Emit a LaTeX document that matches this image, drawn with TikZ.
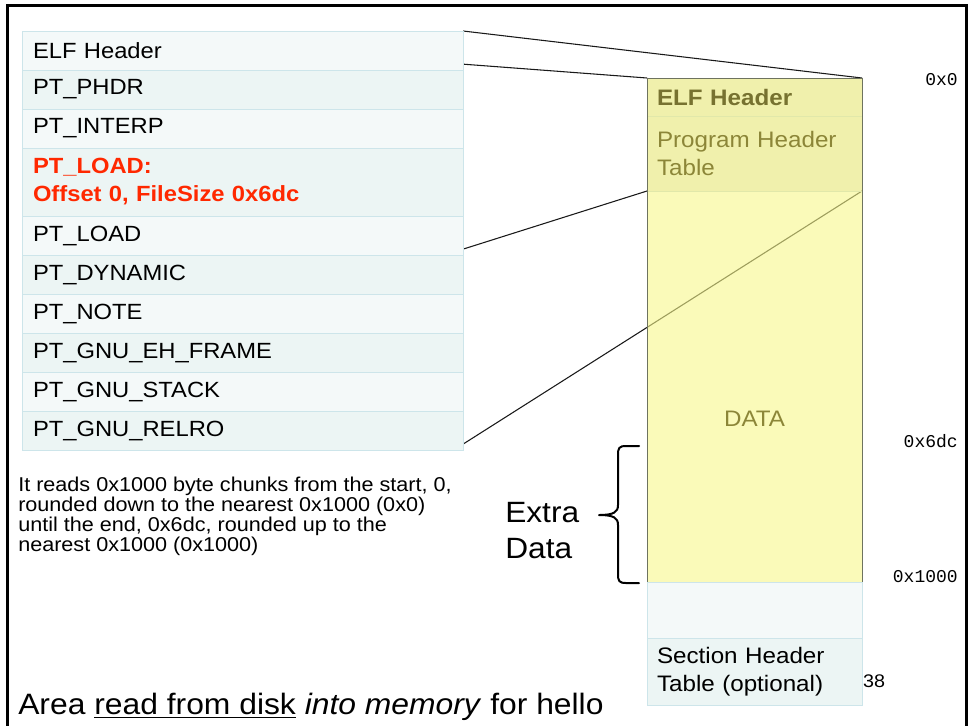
\documentclass[tikz,border=0pt]{standalone}
\usepackage{fontspec}
\setmainfont{Liberation Sans}[FakeStretch=1.08]
\newfontfamily\hexfont{Liberation Mono}
\usetikzlibrary{positioning,backgrounds,calc}
\newcommand\thickul[1]{\setbox0\hbox{#1}\rlap{\rule[-3.2pt]{\wd0}{1.2pt}}\box0\relax}

\definecolor{rowlight}{RGB}{244,249,249}
\definecolor{rowdark}{RGB}{236,245,244}
\definecolor{rowline}{RGB}{205,229,234}
\definecolor{loadred}{RGB}{255,40,0}
\definecolor{olivetext}{RGB}{140,134,56}
\definecolor{oliveborder}{RGB}{110,115,95}
\definecolor{segfill}{RGB}{246,246,138}
\definecolor{seghead}{RGB}{230,230,117}
\definecolor{segline}{RGB}{225,232,170}

\tikzset{
  phrow/.style={draw=rowline, fill=rowlight, minimum width=330.75pt, minimum height=29.25pt,
    text width=314.25pt, inner xsep=8.25pt, inner ysep=0pt, outer sep=0pt, align=left,
    font=\fontsize{16.5}{20}\selectfont},
  phdark/.style={phrow, fill=rowdark},
  segrow/.style={draw=segline, fill=segfill, fill opacity=0.6, text opacity=1,
    minimum width=161.25pt, text width=146.25pt, inner xsep=7.5pt, inner ysep=0pt,
    outer sep=0pt, align=left, text=olivetext, font=\fontsize{16.8}{20.5}\selectfont},
  filerow/.style={draw=rowline, fill=rowlight, minimum width=161.25pt, text width=146.25pt,
    inner xsep=7.5pt, inner ysep=0pt, outer sep=0pt, align=left,
    font=\fontsize{16.8}{20.8}\selectfont},
  hexlabel/.style={anchor=east, inner sep=0pt, font=\hexfont\fontsize{13.5}{16}\selectfont},
  link/.style={black!90, line width=0.8pt},
}

\begin{document}
\begin{tikzpicture}[x=0.75pt, y=-0.75pt]
    \useasboundingbox (0,0) rectangle (969,725);

    % Slide frame
    \draw[line width=2.25pt] (7.5,740) -- (7.5,5.5) -- (966,5.5) -- (966,740);

    % Program headers of hello
    \node[phrow, anchor=north west] (hdr) at (22,31) {ELF Header};
    \node[phdark, below=0pt of hdr] (phdr) {PT\_PHDR};
    \node[phrow, below=0pt of phdr] (interp) {PT\_INTERP};
    \node[phdark, below=0pt of interp, minimum height=51pt, text=loadred,
      font=\bfseries\fontsize{16.5}{21}\selectfont] (loadA) {PT\_LOAD:\\Offset 0, FileSize 0x6dc};
    \node[phrow, below=0pt of loadA] (loadB) {PT\_LOAD};
    \node[phdark, below=0pt of loadB] (dynamic) {PT\_DYNAMIC};
    \node[phrow, below=0pt of dynamic] (note) {PT\_NOTE};
    \node[phdark, below=0pt of note] (ehframe) {PT\_GNU\_EH\_FRAME};
    \node[phrow, below=0pt of ehframe] (stack) {PT\_GNU\_STACK};
    \node[phdark, below=0pt of stack] (relro) {PT\_GNU\_RELRO};

    % File layout on the right
    \node[segrow, anchor=north west, minimum height=28.5pt, fill=seghead, text=olivetext!85!black,
      font=\bfseries\fontsize{16.8}{20.5}\selectfont] (elf) at (647,78) {ELF Header};
    \node[segrow, below=0pt of elf, minimum height=56.25pt, fill=seghead] (pht) {Program Header\\Table};
    \node[segrow, below=0pt of pht, minimum height=293.25pt] (data) {};
    \node[inner sep=0pt, text=olivetext, font=\fontsize{16.8}{20.5}\selectfont] (datalbl)
      at ($(data.center)+(0,32)$) {DATA};
    \draw[oliveborder, line width=0.75pt] (elf.north west) rectangle (data.south east);
    \node[filerow, below=0pt of data, minimum height=42pt] (gap) {};
    \node[filerow, below=0pt of gap, minimum height=50.25pt, fill=rowdark] (sht) {Section Header\\Table (optional)};

    % Offsets
    \node[hexlabel] (off0) at (958,80) {0x0};
    \node[hexlabel] (off6dc) at (958,441) {0x6dc};
    \node[hexlabel] (off1000) at (958,577) {0x1000};
    \node[inner sep=0pt, font=\fontsize{13.7}{16}\selectfont] (slidenum) at (874,681) {38};

    % Lines from the program headers to the file
    \begin{scope}[on background layer]
      \draw[link] (hdr.north east) -- (elf.north east);
      \draw[link] ($(hdr.north east)!0.85!(hdr.south east)$) -- (elf.north west);
      \draw[link] ($(loadB.north east)!0.85!(loadB.south east)$) -- (pht.south west);
      \draw[link] ($(relro.north east)!0.85!(relro.south east)$) -- (pht.south east);
    \end{scope}

    % Extra data brace
    \draw[line width=1.5pt, line cap=round, line join=round]
      (639,446) -- (626,446) .. controls (619,446) and (618,448) .. (618,455)
      -- (618,505) .. controls (618,512) and (614,515) .. (599,515)
      .. controls (614,515) and (618,518) .. (618,525)
      -- (618,574) .. controls (618,581) and (619,583) .. (626,583) -- (639,583);
    \node[anchor=west, align=left, inner sep=0pt, font=\fontsize{22}{27}\selectfont] (extra)
      at (505,531) {Extra\\Data};

    % Notes
    \node[anchor=north west, align=left, inner sep=0pt, font=\fontsize{15}{13.8}\selectfont] (reads)
      at (18,477) {It reads 0x1000 byte chunks from the start, 0,\\rounded down to the nearest 0x1000 (0x0)\\until the end, 0x6dc, rounded up to the\\nearest 0x1000 (0x1000)};
    \node[anchor=base west, inner sep=0pt, font=\fontsize{22.1}{26}\selectfont] (title)
      at (18,714) {Area \thickul{read from disk} \textit{into memory} for hello};
\end{tikzpicture}
\end{document}
